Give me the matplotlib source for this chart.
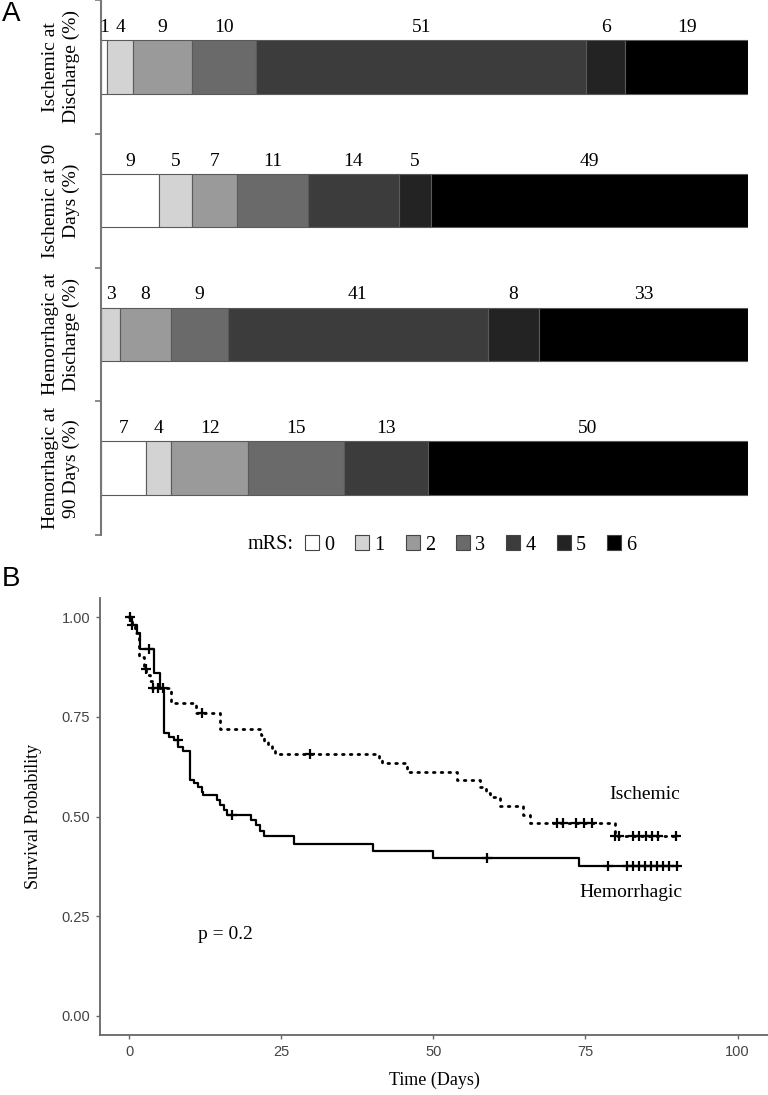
import numpy as np
import matplotlib
matplotlib.use("Agg")
import matplotlib.pyplot as plt
from matplotlib.patches import Patch

SERIF = ["Liberation Serif", "DejaVu Serif"]
SANS = ["Liberation Sans", "DejaVu Sans"]
NARROW = ["Liberation Sans Narrow", "Liberation Sans", "DejaVu Sans"]

# ---- panel A data (percent of patients per mRS grade) ----
groups = ["Ischemic at\nDischarge (%)", "Ischemic at 90\nDays (%)",
          "Hemorrhagic at\nDischarge (%)", "Hemorrhagic at\n90 Days (%)"]
mrs_grades = ["0", "1", "2", "3", "4", "5", "6"]
isch_discharge = [1, 4, 9, 10, 51, 6, 19]
isch_90d = [9, 5, 7, 11, 14, 5, 49]
hem_discharge = [0, 3, 8, 9, 41, 8, 33]
hem_90d = [7, 4, 12, 15, 13, 0, 50]
mrs_colors = ["#ffffff", "#d3d3d3", "#9a9a9a", "#6a6a6a", "#3c3c3c", "#232323", "#000000"]

# ---- panel B data (Kaplan-Meier steps) ----
hem_t = [0, 0.4, 1.2, 1.8, 4.1, 5.0, 5.8, 6.6, 7.3, 8.1, 8.9, 10.0, 10.7, 11.3,
         11.9, 12.1, 14.4, 14.9, 15.5, 16.1, 20.1, 20.9, 21.5, 22.2, 27.1,
         40.0, 49.9, 73.9, 90.0]
hem_s = [1.0, 0.98, 0.96, 0.92, 0.86, 0.822, 0.709, 0.70, 0.692, 0.675, 0.665,
         0.591, 0.583, 0.573, 0.562, 0.554, 0.541, 0.529, 0.516, 0.504, 0.49,
         0.479, 0.464, 0.451, 0.43, 0.413, 0.396, 0.376, 0.376]
hem_cens = [0.4, 3.2, 5.5, 8.0, 16.9, 58.8, 78.7, 81.8, 82.8, 83.8, 84.8,
            85.8, 86.8, 87.8, 88.8, 90.0]

isch_t = [0, 0.5, 1.0, 1.6, 2.4, 2.8, 3.5, 3.8, 6.8, 11.0, 15.0, 21.7, 22.2,
          22.8, 23.4, 24.0, 41.0, 41.6, 45.6, 53.8, 57.6, 58.7, 59.3, 60.9,
          64.7, 65.8, 79.8, 90.0]
isch_s = [1.0, 0.98, 0.96, 0.90, 0.87, 0.855, 0.84, 0.822, 0.784, 0.76, 0.72,
          0.705, 0.69, 0.68, 0.667, 0.657, 0.645, 0.634, 0.611, 0.591, 0.575,
          0.56, 0.549, 0.526, 0.505, 0.483, 0.451, 0.451]
isch_cens = [0.2, 2.7, 3.9, 4.8, 11.9, 29.7, 70.3, 71.3, 73.5, 74.8, 76.0,
             79.9, 80.5, 82.8, 83.8, 85.0, 86.0, 87.0, 89.9]


def surv_at(times, surv, t):
    idx = np.searchsorted(times, t, side="right") - 1
    return np.asarray(surv)[idx]


fig = plt.figure(figsize=(7.68, 10.95), dpi=100)

# ================= panel A =================
axA = fig.add_axes([101 / 768, 1 - 535 / 1095, 647 / 768, 535 / 1095])
rows = [isch_discharge, isch_90d, hem_discharge, hem_90d]
bar_h = 0.4
for i, row in enumerate(rows):
    vals = np.array(row, dtype=float)
    widths = vals / vals.sum() * 100
    lefts = np.concatenate([[0], np.cumsum(widths)[:-1]])
    for j in range(len(vals)):
        if vals[j] == 0:
            continue
        axA.barh(i, widths[j], left=lefts[j], height=bar_h, color=mrs_colors[j],
                 edgecolor="#5a5a5a", linewidth=0.8)
        axA.annotate(str(row[j]), (lefts[j] + widths[j] / 2, i - bar_h / 2),
                     xytext=(0, 6), textcoords="offset points", ha="center",
                     va="baseline", fontsize=14, family=SERIF)

axA.set_xlim(0, 100)
axA.set_ylim(3.5, -0.5)
axA.set_yticks(range(len(groups)))
axA.set_yticklabels(groups, rotation=90, va="center", ha="center",
                    fontsize=14, family=SERIF, linespacing=1.3)
axA.tick_params(axis="y", which="major", length=0, pad=29)
axA.set_yticks(np.arange(-0.5, 4, 1), minor=True)
axA.tick_params(axis="y", which="minor", length=4, width=1.2, color="#777777")
axA.set_xticks([])
for s in ["top", "right", "bottom"]:
    axA.spines[s].set_visible(False)
axA.spines["left"].set_color("#777777")
axA.spines["left"].set_linewidth(1.5)

handles = [Patch(facecolor=c, edgecolor="#444444", linewidth=0.8) for c in mrs_colors]
fig.legend(handles, mrs_grades, ncol=7, frameon=False, loc="center left",
           bbox_to_anchor=(305 / 768, 1 - 545 / 1095), handlelength=0.7,
           handleheight=0.7, handletextpad=0.25, columnspacing=1.05,
           prop={"family": SERIF, "size": 14.5}, borderaxespad=0, borderpad=0)
fig.text(294 / 768, 1 - 545 / 1095, "mRS:", ha="right", va="center",
         fontsize=14.5, family=SERIF)

fig.text(0.002, 0.999, "A", ha="left", va="top", fontsize=20, family=SANS)
fig.text(0.002, 1 - 566 / 1095, "B", ha="left", va="top", fontsize=20, family=SANS)

# ================= panel B =================
axB = fig.add_axes([100 / 768, 1 - 1035 / 1095, 668 / 768, 437 / 1095])
axB.step(isch_t, isch_s, where="post", color="black", linewidth=2.0,
         linestyle=(0, (0.6, 2.2)), dash_capstyle="round")
axB.step(hem_t, hem_s, where="post", color="black", linewidth=1.6)
axB.plot(isch_cens, surv_at(isch_t, isch_s, isch_cens), linestyle="none",
         marker="+", markersize=7, markeredgewidth=1.6, color="black")
axB.plot(hem_cens, surv_at(hem_t, hem_s, hem_cens), linestyle="none",
         marker="+", markersize=7, markeredgewidth=1.6, color="black")

axB.text(84.7, 0.555, "Ischemic", ha="center", va="center", fontsize=14, family=SERIF)
axB.text(82.4, 0.31, "Hemorrhagic", ha="center", va="center", fontsize=14, family=SERIF)
axB.text(15.8, 0.205, "p = 0.2", ha="center", va="center", fontsize=14, family=SERIF)

axB.set_xlim(-4.8, 105)
axB.set_ylim(-0.048, 1.048)
axB.set_xticks([0, 25, 50, 75, 100])
axB.set_yticks([0, 0.25, 0.5, 0.75, 1.0])
axB.set_yticklabels(["0.00", "0.25", "0.50", "0.75", "1.00"])
for lab in axB.get_xticklabels() + axB.get_yticklabels():
    lab.set_family(NARROW)
    lab.set_fontsize(10.5)
    lab.set_color("#444444")
axB.tick_params(length=3, width=1, color="#666666", pad=4)
axB.set_xlabel("Time (Days)", fontsize=13, family=SERIF, labelpad=9)
axB.set_ylabel("Survival Probability", fontsize=13, family=SERIF, labelpad=14)
for s in ["top", "right"]:
    axB.spines[s].set_visible(False)
for s in ["left", "bottom"]:
    axB.spines[s].set_color("#666666")
    axB.spines[s].set_linewidth(1.3)

fig.savefig("out.png", dpi=100)
